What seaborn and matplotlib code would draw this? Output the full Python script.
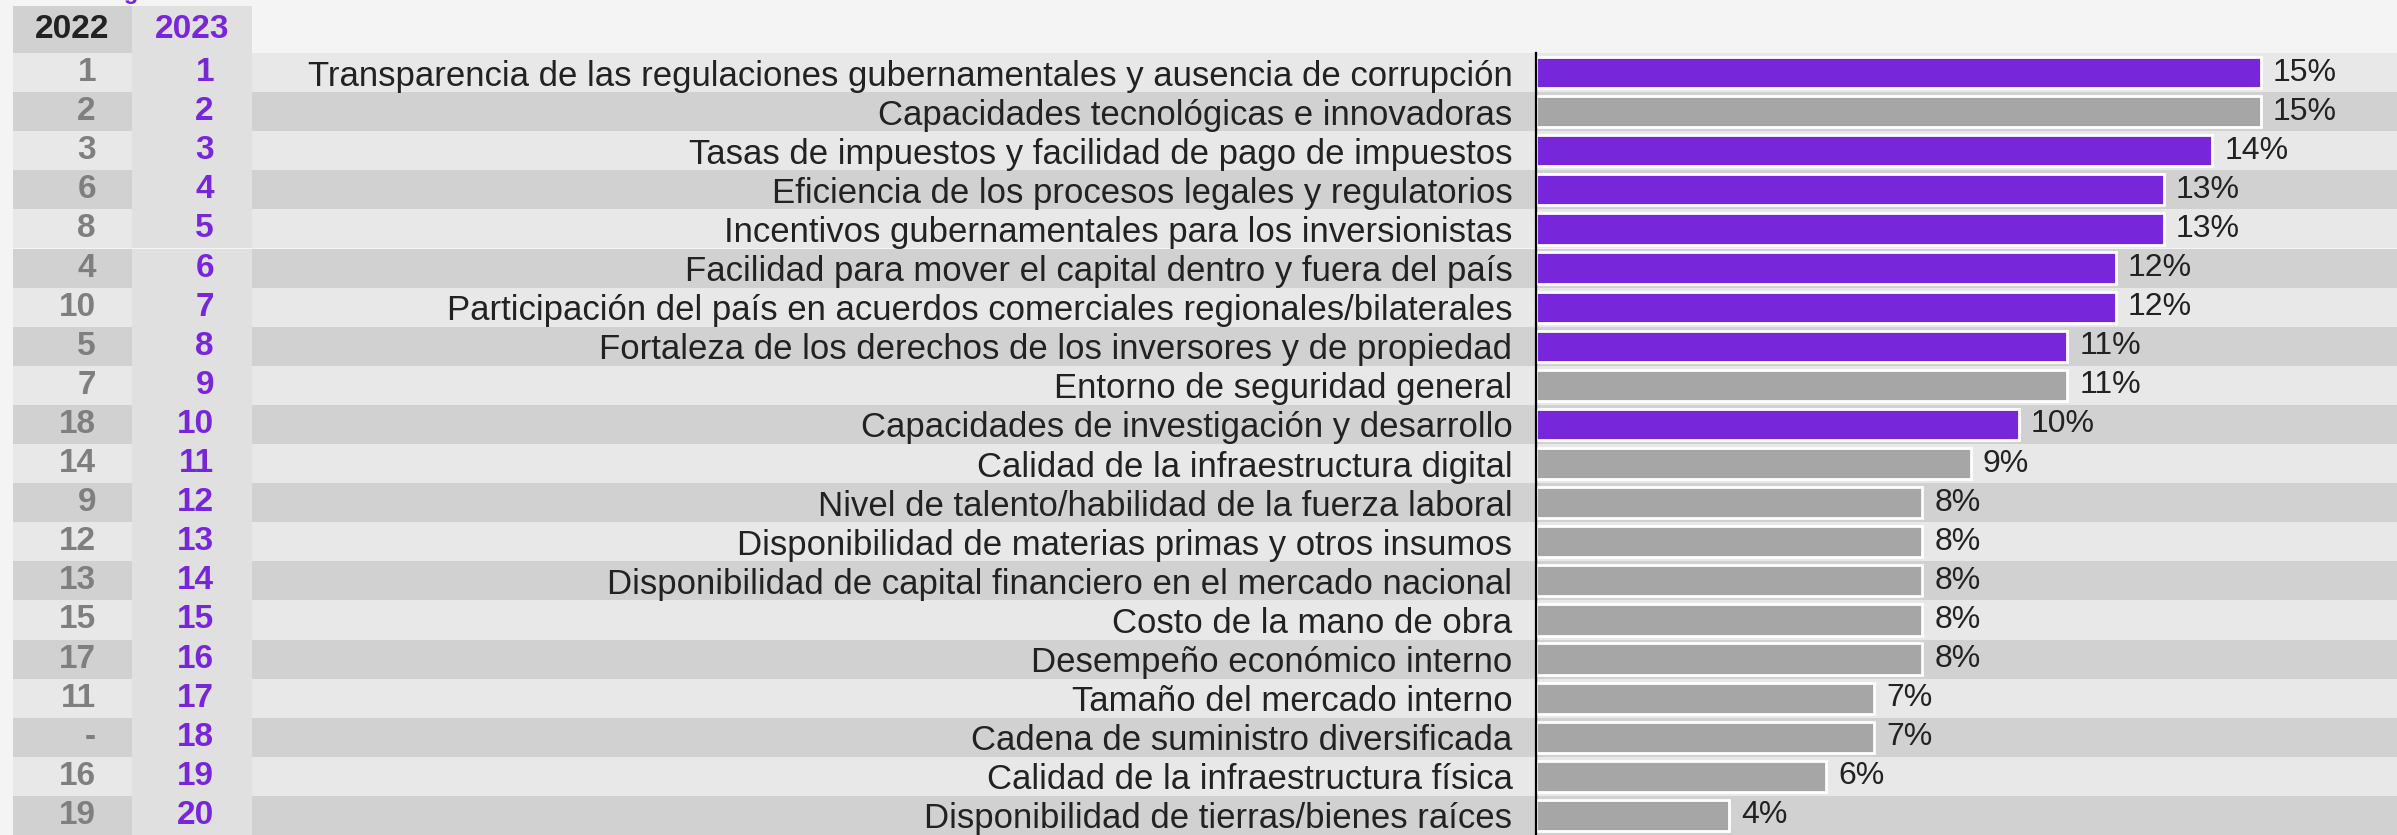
import matplotlib
matplotlib.use("Agg")
import matplotlib.pyplot as plt
import seaborn as sns
import pandas as pd

# Datos
factores = [
    "Transparencia de las regulaciones gubernamentales y ausencia de corrupción",
    "Capacidades tecnológicas e innovadoras",
    "Tasas de impuestos y facilidad de pago de impuestos",
    "Eficiencia de los procesos legales y regulatorios",
    "Incentivos gubernamentales para los inversionistas",
    "Facilidad para mover el capital dentro y fuera del país",
    "Participación del país en acuerdos comerciales regionales/bilaterales",
    "Fortaleza de los derechos de los inversores y de propiedad",
    "Entorno de seguridad general",
    "Capacidades de investigación y desarrollo",
    "Calidad de la infraestructura digital",
    "Nivel de talento/habilidad de la fuerza laboral",
    "Disponibilidad de materias primas y otros insumos",
    "Disponibilidad de capital financiero en el mercado nacional",
    "Costo de la mano de obra",
    "Desempeño económico interno",
    "Tamaño del mercado interno",
    "Cadena de suministro diversificada",
    "Calidad de la infraestructura física",
    "Disponibilidad de tierras/bienes raíces",
]
porcentaje = [15, 15, 14, 13, 13, 12, 12, 11, 11, 10, 9, 8, 8, 8, 8, 8, 7, 7, 6, 4]
rank_2022 = ["1", "2", "3", "6", "8", "4", "10", "5", "7", "18",
             "14", "9", "12", "13", "15", "17", "11", "-", "16", "19"]
rank_2023 = [str(i) for i in range(1, 21)]
destacado = [True, False, True, True, True, True, True, True, False, True,
             False, False, False, False, False, False, False, False, False, False]

PURPLE = "#7726DA"
GREY_BAR = "#a6a6a6"

plt.rcParams['font.family'] = ['Liberation Sans', 'DejaVu Sans']

W, H = 2397, 835
top = 53  # header height in px
rows_h = (H - top) / H

df = pd.DataFrame({"factor": factores, "pct": porcentaje})
colores = [PURPLE if d else GREY_BAR for d in destacado]
n = len(factores)

fig = plt.figure(figsize=(W / 100, H / 100), dpi=100)
fig.patch.set_facecolor("#f4f4f4")

# fondo de filas
ax_bg = fig.add_axes([0, 0, 1, rows_h])
ax_bg.set_xlim(0, W)
ax_bg.set_ylim(n - 0.5, -0.5)
ax_bg.axis("off")
stripe = ["#e8e8e8" if i % 2 == 0 else "#d1d1d1" for i in range(n)]
ax_bg.barh(range(n), W - 13, left=13, height=1, color=stripe, linewidth=0)
ax_bg.barh(range(n), 120, left=132, height=1, color="#e0e0e0", linewidth=0)
for i in range(n):
    ax_bg.text(96, i, rank_2022[i], ha="right", va="center", fontsize=24,
               fontweight="bold", color="#7f7f7f")
    ax_bg.text(214, i, rank_2023[i], ha="right", va="center", fontsize=24,
               fontweight="bold", color=PURPLE)

# encabezado
ax_hd = fig.add_axes([0, rows_h, 1, (top - 6) / H])
ax_hd.set_xlim(0, W)
ax_hd.set_ylim(0, 1)
ax_hd.axis("off")
ax_hd.barh(0.5, 119, left=13, height=1, color="#d1d1d1", linewidth=0)
ax_hd.barh(0.5, 120, left=132, height=1, color="#e0e0e0", linewidth=0)
ax_hd.text(72, 0.5, "2022", ha="center", va="center", fontsize=24,
           fontweight="bold", color="#222222")
ax_hd.text(192, 0.5, "2023", ha="center", va="center", fontsize=24,
           fontweight="bold", color=PURPLE)

# titulo casi fuera del lienzo (solo asoman los descendentes)
fig.text(45 / W, 1.0 + 1.0 / H, "Ranking", ha="left", va="baseline",
         fontsize=17, fontweight="bold", color=PURPLE)

# barras
ax = fig.add_axes([1536 / W, 0, (W - 1536) / W, rows_h])
ax.patch.set_alpha(0)
sns.barplot(data=df, x="pct", y="factor", hue="factor", palette=colores,
            legend=False, orient="h", width=0.8, saturation=1,
            edgecolor="white", linewidth=2, ax=ax)
ax.set_xlim(0, (W - 1536) / 48.3)
ax.set_ylim(n - 0.5, -0.5)
for i, v in enumerate(porcentaje):
    ax.text(v + 0.25, i, f"{v}%", ha="left", va="center", fontsize=23,
            color="#222222")
ax.set_xlabel("")
ax.set_ylabel("")
ax.set_xticks([])
ax.tick_params(axis="y", length=0, pad=17, labelsize=25, labelcolor="#222222")
for s in ["top", "right", "bottom"]:
    ax.spines[s].set_visible(False)
ax.spines["left"].set_color("black")
ax.spines["left"].set_linewidth(1.6)

fig.savefig("out.png", dpi=100, facecolor=fig.get_facecolor())
